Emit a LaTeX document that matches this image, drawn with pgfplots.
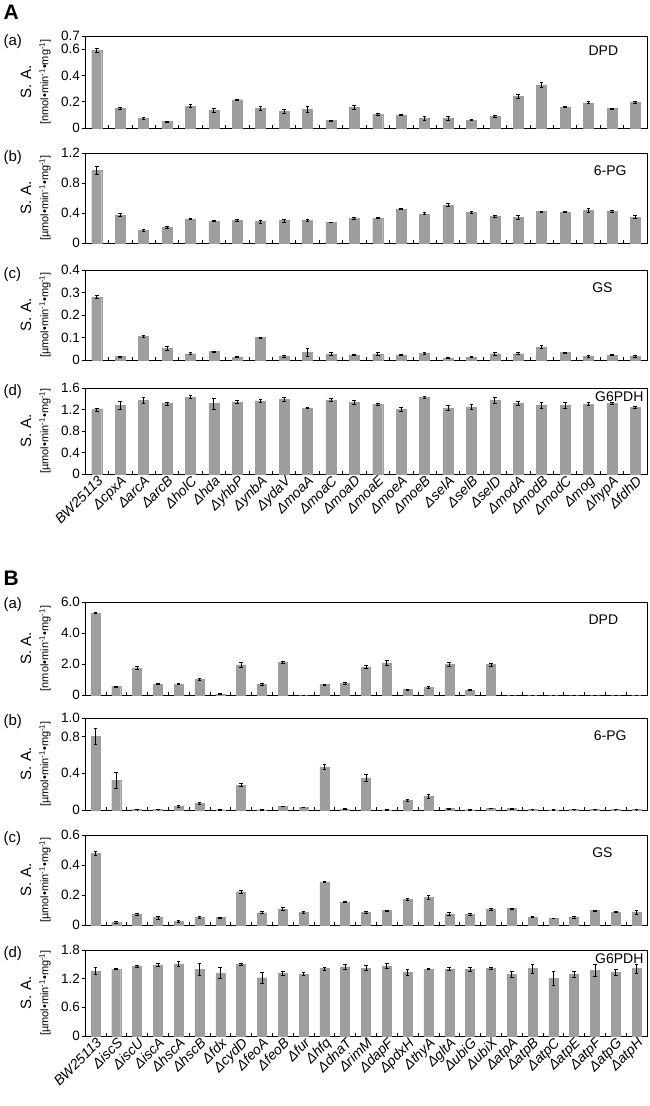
\documentclass[border=0pt]{standalone}
\usepackage{fontspec}
\setmainfont{Liberation Sans}
\usepackage{pgfplots}
\pgfplotsset{compat=1.18}
\usepackage{pgfplotstable}

\definecolor{bargray}{RGB}{158,158,158}

\pgfplotstableread{
x dpd dpde pg pge gs gse g6 g6e
0 0.590 0.015 0.97 0.05 0.280 0.007 1.20 0.03
1 0.150 0.008 0.37 0.02 0.015 0.002 1.28 0.07
2 0.075 0.008 0.165 0.015 0.105 0.005 1.37 0.05
3 0.048 0.004 0.205 0.015 0.052 0.008 1.31 0.03
4 0.167 0.012 0.32 0.008 0.028 0.005 1.43 0.03
5 0.135 0.016 0.29 0.006 0.037 0.003 1.31 0.10
6 0.215 0.006 0.305 0.01 0.013 0.003 1.34 0.03
7 0.148 0.015 0.285 0.018 0.100 0.002 1.36 0.02
8 0.125 0.017 0.30 0.022 0.016 0.005 1.39 0.04
9 0.143 0.022 0.30 0.01 0.035 0.018 1.23 0.01
10 0.057 0.004 0.275 0.006 0.027 0.005 1.38 0.03
11 0.158 0.013 0.33 0.01 0.023 0.003 1.33 0.04
12 0.102 0.008 0.33 0.006 0.027 0.005 1.30 0.02
13 0.100 0.005 0.45 0.006 0.023 0.002 1.20 0.04
14 0.072 0.017 0.39 0.014 0.030 0.006 1.43 0.02
15 0.076 0.014 0.51 0.022 0.008 0.002 1.23 0.05
16 0.060 0.003 0.41 0.008 0.013 0.003 1.25 0.05
17 0.088 0.005 0.355 0.008 0.028 0.006 1.37 0.05
18 0.240 0.018 0.34 0.028 0.028 0.005 1.32 0.04
19 0.328 0.017 0.42 0.008 0.058 0.005 1.28 0.05
20 0.160 0.005 0.415 0.008 0.033 0.003 1.28 0.05
21 0.192 0.007 0.435 0.022 0.018 0.004 1.30 0.03
22 0.147 0.005 0.425 0.01 0.022 0.003 1.31 0.02
23 0.198 0.007 0.345 0.018 0.018 0.004 1.24 0.02
}\tabA

\pgfplotstableread{
x dpd dpde pg pge gs gse g6 g6e
0 5.30 0.06 0.80 0.09 0.480 0.014 1.36 0.07
1 0.55 0.04 0.32 0.085 0.018 0.004 1.40 0.01
2 1.75 0.12 0.005 0.002 0.070 0.007 1.46 0.02
3 0.70 0.04 0.005 0.002 0.050 0.010 1.49 0.04
4 0.72 0.03 0.040 0.006 0.025 0.008 1.51 0.05
5 1.00 0.05 0.072 0.006 0.050 0.006 1.40 0.13
6 0.08 0.03 0.003 0.002 0.050 0.004 1.32 0.12
7 1.95 0.16 0.27 0.015 0.222 0.012 1.50 0.03
8 0.68 0.05 0.003 0.002 0.082 0.007 1.22 0.12
9 2.10 0.07 0.040 0.005 0.105 0.010 1.31 0.04
10 0.00 0.00 0.030 0.004 0.085 0.007 1.30 0.04
11 0.68 0.03 0.47 0.03 0.288 0.003 1.41 0.03
12 0.75 0.04 0.010 0.003 0.155 0.005 1.45 0.06
13 1.82 0.08 0.35 0.035 0.085 0.004 1.42 0.05
14 2.08 0.15 0.003 0.002 0.097 0.003 1.47 0.05
15 0.36 0.03 0.105 0.010 0.170 0.005 1.33 0.07
16 0.50 0.08 0.150 0.020 0.185 0.012 1.40 0.01
17 1.97 0.12 0.015 0.003 0.075 0.008 1.40 0.03
18 0.33 0.04 0.003 0.002 0.072 0.006 1.39 0.04
19 1.97 0.10 0.018 0.003 0.105 0.007 1.42 0.02
20 0.00 0.00 0.015 0.003 0.110 0.003 1.29 0.07
21 0.00 0.00 0.005 0.002 0.055 0.002 1.41 0.09
22 0.00 0.00 0.003 0.002 0.045 0.002 1.21 0.14
23 0.00 0.00 0.005 0.002 0.050 0.008 1.29 0.07
24 0.00 0.00 0.005 0.002 0.097 0.003 1.38 0.13
25 0.00 0.00 0.005 0.002 0.088 0.002 1.33 0.06
26 0.00 0.00 0.005 0.002 0.085 0.015 1.41 0.10
}\tabB

\newcommand{\SAlabel}[1]{%
  \node[rotate=90,font=\fontsize{15}{15}\selectfont] at ([xshift=-59pt]rel axis cs:0,0.5) {S. A.};
  \node[rotate=90,font=\fontsize{11}{11}\selectfont] at ([xshift=-40pt]rel axis cs:0,0.5) {[#1mol•min\textsuperscript{-1}•mg\textsuperscript{-1}]};
}

\pgfplotsset{
  panel/.style={
    scale only axis, width=562pt, anchor=north west,
    ybar, ymin=0, clip=false,
    axis line style={black, line width=0.9pt},
    xticklabels={},
    xtick pos=left, ytick pos=left,
    xtick align=inside, ytick align=outside,
    major tick length=3pt,
    tick style={black, line width=0.6pt},
    tick label style={font=\fontsize{13.5}{13.5}\selectfont},
    yticklabel style={inner sep=2pt},
  },
  pA/.style={panel, xmin=-0.5, xmax=23.5, bar width=10pt, xtick={0.5,1.5,...,22.5}},
  pB/.style={panel, xmin=-0.5, xmax=26.5, bar width=9pt, xtick={0.5,1.5,...,25.5}},
  catlabels/.style={
    extra x ticks={#1},
    extra x tick style={tick style={draw=none}, major tick length=0pt,
      xticklabel style={rotate=45, anchor=north east, inner sep=0.5pt,
        font=\itshape\fontsize{14}{14}\selectfont}},
  },
  bars/.style={fill=bargray, draw=bargray,
    error bars/.cd, y dir=both, y explicit,
    error bar style={draw=black, line width=0.7pt},
    error mark options={rotate=90, mark size=1.8pt, draw=black, line width=0.7pt}},
}

\newcommand{\tagnode}[2]{\node[anchor=north east,font=\fontsize{14}{14}\selectfont] at (rel axis cs:#1) {#2};}

\begin{document}
\begin{tikzpicture}
\useasboundingbox (0,0) rectangle (650pt,-1106pt);

% ---------------- A ----------------
\node[anchor=west,font=\bfseries\fontsize{21}{21}\selectfont] at (0pt,-12pt) {A};

\node[anchor=west,font=\fontsize{15}{15}\selectfont] at (0pt,-42pt) {(a)};
\begin{axis}[pA, at={(85pt,-36pt)}, height=92pt, ymax=0.7,
  ytick={0,0.2,0.4,0.6,0.7}, yticklabels={0,0.2,0.4,0.6,0.7}]
\addplot[bars] table[x=x, y=dpd, y error=dpde] {\tabA};
\tagnode{0.955,0.93}{DPD}
\SAlabel{n}
\end{axis}

\node[anchor=west,font=\fontsize{15}{15}\selectfont] at (0pt,-158pt) {(b)};
\begin{axis}[pA, at={(85pt,-153pt)}, height=90pt, ymax=1.2,
  ytick={0,0.4,0.8,1.2}, yticklabels={0,0.4,0.8,1.2}]
\addplot[bars] table[x=x, y=pg, y error=pge] {\tabA};
\tagnode{0.97,0.9}{6-PG}
\SAlabel{µ}
\end{axis}

\node[anchor=west,font=\fontsize{15}{15}\selectfont] at (0pt,-275pt) {(c)};
\begin{axis}[pA, at={(85pt,-270pt)}, height=90pt, ymax=0.4,
  ytick={0,0.1,0.2,0.3,0.4}, yticklabels={0,0.1,0.2,0.3,0.4}]
\addplot[bars] table[x=x, y=gs, y error=gse] {\tabA};
\tagnode{0.945,0.9}{GS}
\SAlabel{µ}
\end{axis}

\node[anchor=west,font=\fontsize{15}{15}\selectfont] at (0pt,-392pt) {(d)};
\begin{axis}[pA, at={(85pt,-388pt)}, height=86pt, ymax=1.6,
  ytick={0,0.4,0.8,1.2,1.6}, yticklabels={0,0.4,0.8,1.2,1.6},
  catlabels={0,...,23},
  extra x tick labels={BW25113,ΔcpxA,ΔarcA,ΔarcB,ΔholC,Δhda,ΔyhbP,ΔynbA,ΔydaV,ΔmoaA,ΔmoaC,ΔmoaD,ΔmoaE,ΔmoeA,ΔmoeB,ΔselA,ΔselB,ΔselD,ΔmodA,ΔmodB,ΔmodC,Δmog,ΔhypA,ΔfdhD}]
\addplot[bars] table[x=x, y=g6, y error=g6e] {\tabA};
\tagnode{1,1}{G6PDH}
\SAlabel{µ}
\end{axis}

% ---------------- B ----------------
\node[anchor=west,font=\bfseries\fontsize{21}{21}\selectfont] at (0pt,-578pt) {B};

\node[anchor=west,font=\fontsize{15}{15}\selectfont] at (0pt,-605pt) {(a)};
\begin{axis}[pB, at={(85pt,-602pt)}, height=93pt, ymax=6,
  ytick={0,2,4,6}, yticklabels={0,2.0,4.0,6.0}]
\addplot[bars] table[x=x, y=dpd, y error=dpde] {\tabB};
\tagnode{0.955,0.9}{DPD}
\SAlabel{n}
\end{axis}

\node[anchor=west,font=\fontsize{15}{15}\selectfont] at (0pt,-722pt) {(b)};
\begin{axis}[pB, at={(85pt,-718pt)}, height=92pt, ymax=1.0,
  ytick={0,0.4,0.8,1.0}, yticklabels={0,0.4,0.8,1.0}]
\addplot[bars] table[x=x, y=pg, y error=pge] {\tabB};
\tagnode{0.97,0.9}{6-PG}
\SAlabel{µ}
\end{axis}

\node[anchor=west,font=\fontsize{15}{15}\selectfont] at (0pt,-839pt) {(c)};
\begin{axis}[pB, at={(85pt,-835pt)}, height=90pt, ymax=0.6,
  ytick={0,0.2,0.4,0.6}, yticklabels={0,0.2,0.4,0.6}]
\addplot[bars] table[x=x, y=gs, y error=gse] {\tabB};
\tagnode{0.945,0.9}{GS}
\SAlabel{µ}
\end{axis}

\node[anchor=west,font=\fontsize{15}{15}\selectfont] at (0pt,-954pt) {(d)};
\begin{axis}[pB, at={(85pt,-950pt)}, height=86pt, ymax=1.8,
  ytick={0,0.6,1.2,1.8}, yticklabels={0,0.6,1.2,1.8},
  catlabels={0,...,26},
  extra x tick labels={BW25113,ΔiscS,ΔiscU,ΔiscA,ΔhscA,ΔhscB,Δfdx,ΔcydD,ΔfeoA,ΔfeoB,Δfur,Δhfq,ΔdnaT,ΔrimM,ΔdapF,ΔpdxH,ΔthyA,ΔgltA,ΔubiG,ΔubiX,ΔatpA,ΔatpB,ΔatpC,ΔatpE,ΔatpF,ΔatpG,ΔatpH}]
\addplot[bars] table[x=x, y=g6, y error=g6e] {\tabB};
\tagnode{1,1}{G6PDH}
\SAlabel{µ}
\end{axis}
\end{tikzpicture}
\end{document}
